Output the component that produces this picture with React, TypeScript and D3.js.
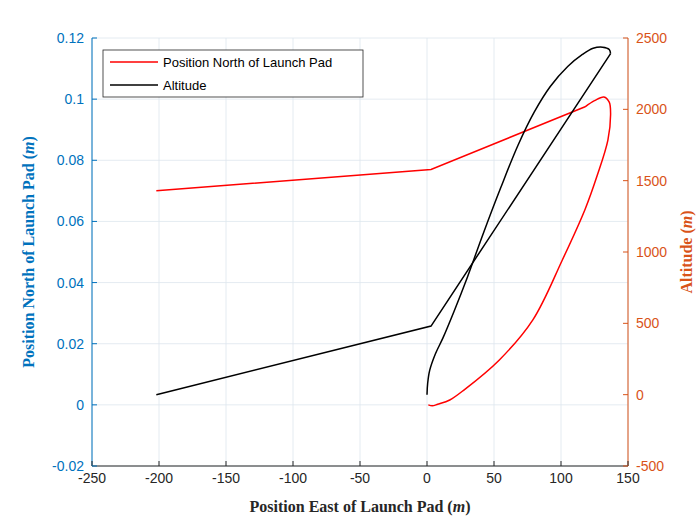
import React from 'react';
import * as d3 from 'd3';

const xTicks = [-250, -200, -150, -100, -50, 0, 50, 100, 150];
const leftTicks = [-0.02, 0, 0.02, 0.04, 0.06, 0.08, 0.1, 0.12];
const rightTicks = [-500, 0, 500, 1000, 1500, 2000, 2500];

// Position North of launch pad [east, north]: straight part, then the curved return
const northStraight: [number, number][] = [[-202, 0.070], [3, 0.077], [118, 0.0975]];
const northCurve: [number, number][] = [
  [118, 0.0975], [125, 0.0995], [132, 0.1007], [136, 0.099], [137, 0.095], [135, 0.0866],
  [127, 0.075], [118, 0.064], [101, 0.0474], [79, 0.0278], [54, 0.0147], [28, 0.005],
  [17, 0.0016], [8, 0.0002], [4, -0.0003], [1, 0],
];

// Altitude [east, altitude]
const altStraight: [number, number][] = [[-202, 0], [3, 481], [137, 2390]];
const altCurve: [number, number][] = [
  [137, 2390], [136, 2420], [131, 2436], [124, 2428], [116, 2385], [105, 2300], [92, 2160],
  [80, 1980], [68, 1750], [55, 1450], [42, 1130], [30, 820], [20, 580], [12, 400], [6, 280],
  [2, 170], [0.5, 80], [0, 0],
];

const W = 700, H = 525;
const m = { left: 92, right: 72, top: 38, bottom: 59 };

export default function App() {
  const x = d3.scaleLinear().domain([-250, 150]).range([m.left, W - m.right]);
  const yL = d3.scaleLinear().domain([-0.02, 0.12]).range([H - m.bottom, m.top]);
  const yR = d3.scaleLinear().domain([-500, 2500]).range([H - m.bottom, m.top]);
  const lineN = d3.line<[number, number]>().x(d => x(d[0])).y(d => yL(d[1]));
  const lineA = d3.line<[number, number]>().x(d => x(d[0])).y(d => yR(d[1]));
  const curveN = lineN.curve(d3.curveLinear);
  const x0 = m.left, x1 = W - m.right, y0 = m.top, y1 = H - m.bottom;
  const font = 'Liberation Sans, Arial, sans-serif';
  const blue = '#0072BD', orange = '#D95319';
  const smoothN = d3.line<[number, number]>().x(d => x(d[0])).y(d => yL(d[1])).curve(d3.curveCatmullRom);
  const smoothA = d3.line<[number, number]>().x(d => x(d[0])).y(d => yR(d[1])).curve(d3.curveCatmullRom);
  return (
    <svg width={W} height={H} style={{ position: 'absolute', left: 0, top: 0, background: '#fff' }}>
      <rect x={0} y={0} width={W} height={H} fill="#fff" />
      {xTicks.map(t => <line key={'gx' + t} x1={x(t)} x2={x(t)} y1={y0} y2={y1} stroke="#dde6ee" strokeWidth={0.8} />)}
      {leftTicks.map(t => <line key={'gy' + t} x1={x0} x2={x1} y1={yL(t)} y2={yL(t)} stroke="#dde6ee" strokeWidth={0.8} />)}
      <path d={curveN(northStraight) || ''} fill="none" stroke="#ff0000" strokeWidth={1.5} />
      <path d={smoothN(northCurve) || ''} fill="none" stroke="#ff0000" strokeWidth={1.5} />
      <path d={lineA(altStraight) || ''} fill="none" stroke="#000" strokeWidth={1.5} />
      <path d={smoothA(altCurve) || ''} fill="none" stroke="#000" strokeWidth={1.5} />
      <line x1={x0} x2={x1} y1={y1} y2={y1} stroke="#262626" />
      <line x1={x0} x2={x0} y1={y0} y2={y1} stroke={blue} />
      <line x1={x1} x2={x1} y1={y0} y2={y1} stroke={orange} />
      {xTicks.map(t => (
        <g key={'x' + t}>
          <line x1={x(t)} x2={x(t)} y1={y1} y2={y1 - 5} stroke="#262626" />
          <text x={x(t)} y={y1 + 17} textAnchor="middle" fontFamily={font} fontSize={14} fill="#262626">{t}</text>
        </g>
      ))}
      {leftTicks.map(t => (
        <g key={'l' + t}>
          <line x1={x0} x2={x0 + 5} y1={yL(t)} y2={yL(t)} stroke={blue} />
          <text x={x0 - 8} y={yL(t) + 5} textAnchor="end" fontFamily={font} fontSize={14} fill={blue}>{t}</text>
        </g>
      ))}
      {rightTicks.map(t => (
        <g key={'r' + t}>
          <line x1={x1} x2={x1 - 5} y1={yR(t)} y2={yR(t)} stroke={orange} />
          <text x={x1 + 8} y={yR(t) + 5} textAnchor="start" fontFamily={font} fontSize={14} fill={orange}>{t}</text>
        </g>
      ))}
      <text x={(x0 + x1) / 2} y={512} textAnchor="middle" fontFamily="Liberation Serif, serif" fontWeight="bold" fontSize={16} fill="#262626">
        Position East of Launch Pad (<tspan fontStyle="italic">m</tspan>)
      </text>
      <text transform={`translate(34,${(y0 + y1) / 2}) rotate(-90)`} textAnchor="middle" fontFamily="Liberation Serif, serif" fontWeight="bold" fontSize={16} fill={blue}>
        Position North of Launch Pad (<tspan fontStyle="italic">m</tspan>)
      </text>
      <text transform={`translate(692,${(y0 + y1) / 2}) rotate(-90)`} textAnchor="middle" fontFamily="Liberation Serif, serif" fontWeight="bold" fontSize={16} fill={orange}>
        Altitude (<tspan fontStyle="italic">m</tspan>)
      </text>
      <rect x={103} y={50} width={260} height={47} fill="#fff" stroke="#262626" strokeWidth={0.8} />
      <line x1={110} x2={158} y1={62} y2={62} stroke="#ff0000" strokeWidth={1.5} />
      <text x={163} y={67} fontFamily={font} fontSize={13} fill="#000">Position North of Launch Pad</text>
      <line x1={110} x2={158} y1={85} y2={85} stroke="#000" strokeWidth={1.5} />
      <text x={163} y={90} fontFamily={font} fontSize={13} fill="#000">Altitude</text>
    </svg>
  );
}
